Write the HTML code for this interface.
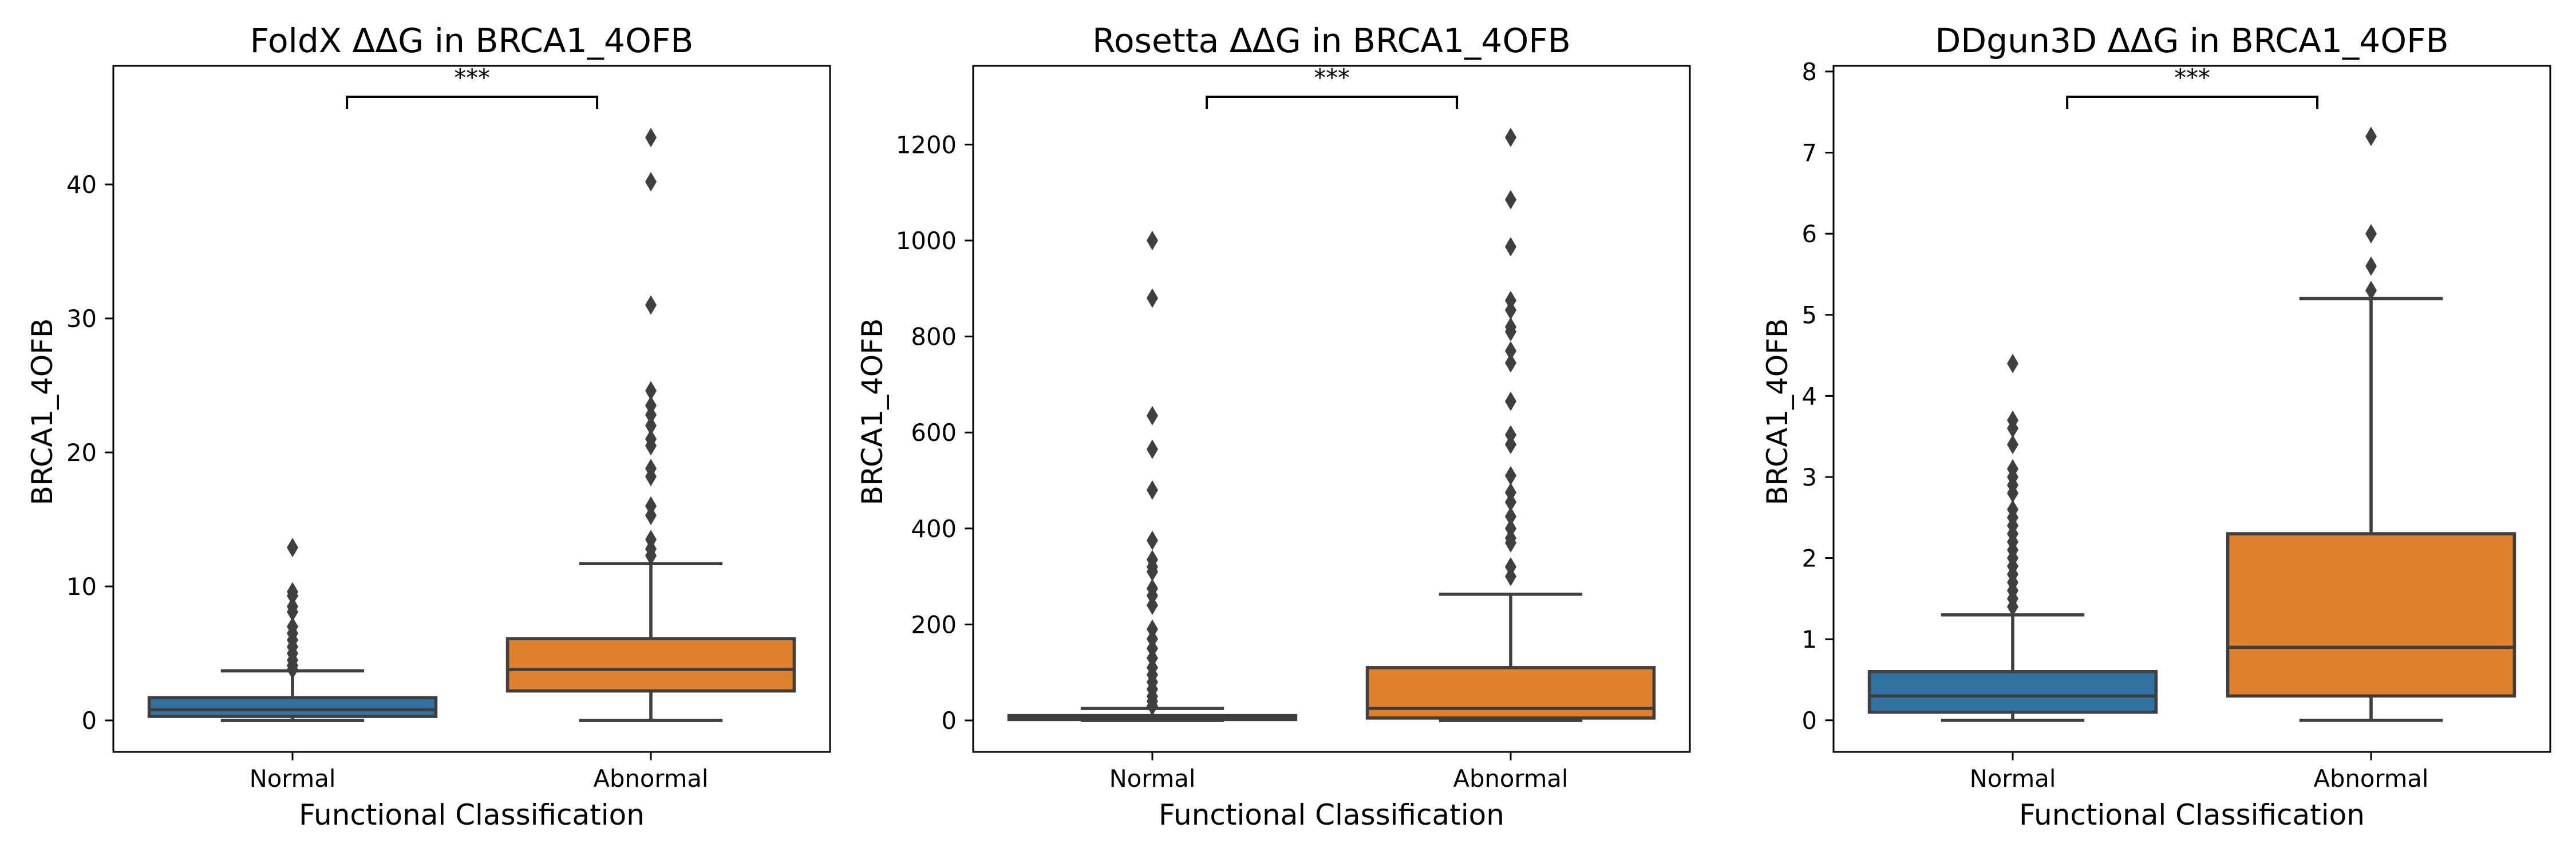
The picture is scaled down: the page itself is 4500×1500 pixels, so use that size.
<!DOCTYPE html>
<html><head><meta charset="utf-8"><style>
html,body{margin:0;padding:0;background:#fff}
svg{display:block}
text{font-family:"DejaVu Sans","Liberation Sans",sans-serif;fill:#000}
</style></head><body>
<svg id="fig" width="4500" height="1500" viewBox="0 0 4500 1500" xmlns="http://www.w3.org/2000/svg"></svg>
<script>
// ---- data ----
const categories = ["Normal", "Abnormal"];
const titles = ["FoldX ΔΔG in BRCA1_4OFB", "Rosetta ΔΔG in BRCA1_4OFB", "DDgun3D ΔΔG in BRCA1_4OFB"];
const yTicks1 = [0, 10, 20, 30, 40];
const yTicks2 = [0, 200, 400, 600, 800, 1000, 1200];
const yTicks3 = [0, 1, 2, 3, 4, 5, 6, 7, 8];
// box stats [whiskerLow, q1, median, q3, whiskerHigh]
const foldxNormal = [0, 0.3, 0.8, 1.7, 3.7];
const foldxAbnormal = [0, 2.2, 3.8, 6.1, 11.7];
const foldxNormalOut = [12.9, 9.6, 9.3, 8.5, 8.1, 7.0, 6.5, 6.0, 5.5, 5.0, 4.5, 4.1, 3.8];
const foldxAbnormalOut = [43.5, 40.2, 31.0, 24.6, 23.5, 22.8, 22.0, 21.0, 20.5, 18.8, 18.2, 16.0, 15.3, 13.5, 12.8, 12.3];
const rosettaNormal = [0, 2, 6, 10, 25];
const rosettaAbnormal = [0, 5, 25, 110, 263];
const rosettaNormalOut = [1000, 880, 635, 565, 480, 375, 335, 320, 310, 275, 260, 240, 190, 170, 150, 130, 110, 95, 80, 65, 50, 40, 30];
const rosettaAbnormalOut = [1215, 1085, 987, 875, 855, 820, 810, 770, 745, 665, 595, 575, 510, 475, 455, 425, 400, 380, 370, 320, 300];
const ddgunNormal = [0, 0.1, 0.3, 0.6, 1.3];
const ddgunAbnormal = [0, 0.3, 0.9, 2.3, 5.2];
const ddgunNormalOut = [4.4, 3.7, 3.6, 3.4, 3.1, 3.0, 2.9, 2.8, 2.6, 2.5, 2.4, 2.3, 2.2, 2.1, 2.0, 1.9, 1.8, 1.7, 1.6, 1.5, 1.4];
const ddgunAbnormalOut = [7.2, 6.0, 5.6, 5.3];
const yDomains = [[-2.35, 48.85], [-65.6, 1364], [-0.39, 8.07]];

const NS = "http://www.w3.org/2000/svg";
const svg = document.getElementById('fig');
function mk(tag, attrs, parent) {
  const e = document.createElementNS(NS, tag);
  for (const k in attrs) e.setAttribute(k, attrs[k]);
  (parent || svg).appendChild(e);
  return e;
}
const panels = [
  {left: 198, stats: [foldxNormal, foldxAbnormal], outs: [foldxNormalOut, foldxAbnormalOut], ticks: yTicks1, ylx: 74},
  {left: 1700, stats: [rosettaNormal, rosettaAbnormal], outs: [rosettaNormalOut, rosettaAbnormalOut], ticks: yTicks2, ylx: 1524},
  {left: 3203, stats: [ddgunNormal, ddgunAbnormal], outs: [ddgunNormalOut, ddgunAbnormalOut], ticks: yTicks3, ylx: 3105}
];
const W = 1252, TOP = 115, BOT = 1313;
const colors = ["#3274a1", "#e1812c"];
const LC = "#3f3f3f";

panels.forEach((p, pi) => {
  const g = mk('g', {});
  
  
  const [d0, d1] = yDomains[pi];
  const y = v => BOT - (v - d0) / (d1 - d0) * (BOT - TOP);
  const x = i => p.left + W * (0.25 + 0.5 * i);
  const bw = W * 0.4;

  // boxes
  p.stats.forEach((s, i) => {
    const bg = mk('g', {}, g);
    
    
    const cx = x(i);
    const w1 = mk('line', {x1: cx, x2: cx, y1: y(s[0]), y2: y(s[1]), stroke: LC, 'stroke-width': 5.6}, bg);
    
    
    const w2 = mk('line', {x1: cx, x2: cx, y1: y(s[3]), y2: y(s[4]), stroke: LC, 'stroke-width': 5.6}, bg);
    
    
    [s[0], s[4]].forEach(v => {
      const c = mk('line', {x1: cx - bw / 4, x2: cx + bw / 4, y1: y(v), y2: y(v), stroke: LC, 'stroke-width': 5.6}, bg);
      
      
    });
    const r = mk('rect', {x: cx - bw / 2, y: y(s[3]), width: bw, height: Math.max(0.5, y(s[1]) - y(s[3])), fill: colors[i], stroke: LC, 'stroke-width': 5.6}, bg);
    
    
    const m = mk('line', {x1: cx - bw / 2, x2: cx + bw / 2, y1: y(s[2]), y2: y(s[2]), stroke: LC, 'stroke-width': 5.6}, bg);
    
    
    p.outs[i].forEach(v => {
      const cy = y(v);
      const o = mk('polygon', {points: `${cx},${cy - 17} ${cx + 10},${cy} ${cx},${cy + 17} ${cx - 10},${cy}`, fill: LC}, bg);
      
      
    });
  });

  // spines
  const fr = mk('rect', {x: p.left, y: TOP, width: W, height: BOT - TOP, fill: 'none', stroke: '#000', 'stroke-width': 3}, g);
  
  

  // y ticks
  p.ticks.forEach(t => {
    const ty = y(t);
    const tl = mk('line', {x1: p.left - 14.6, x2: p.left, y1: ty, y2: ty, stroke: '#000', 'stroke-width': 3}, g);
    
    
    const tx = mk('text', {x: p.left - 29, y: ty + 15, 'text-anchor': 'end', 'font-size': 41.7}, g);
    tx.textContent = t;
    
    
  });
  // x ticks
  categories.forEach((c, i) => {
    const tl = mk('line', {x1: x(i), x2: x(i), y1: BOT, y2: BOT + 14.6, stroke: '#000', 'stroke-width': 3}, g);
    
    
    const tx = mk('text', {x: x(i), y: 1374, 'text-anchor': 'middle', 'font-size': 41.7}, g);
    tx.textContent = c;
    
    
  });
  const xl = mk('text', {x: p.left + W / 2, y: 1440, 'text-anchor': 'middle', 'font-size': 50}, g);
  xl.textContent = 'Functional Classification';
  
  
  const yl = mk('text', {x: 0, y: 0, 'text-anchor': 'middle', 'dominant-baseline': 'central', 'font-size': 50, transform: `translate(${p.ylx},719) rotate(-90)`}, g);
  yl.textContent = 'BRCA1_4OFB';
  
  
  const ti = mk('text', {x: p.left + W / 2, y: 91, 'text-anchor': 'middle', 'font-size': 58.3}, g);
  ti.textContent = titles[pi];
  
  

  // significance bracket
  const bx1 = p.left + W * 0.326, bx2 = p.left + W * 0.675;
  const br = mk('polyline', {points: `${bx1},190 ${bx1},169 ${bx2},169 ${bx2},190`, fill: 'none', stroke: '#000', 'stroke-width': 4}, g);
  
  
  const st = mk('text', {x: (bx1 + bx2) / 2, y: 150, 'text-anchor': 'middle', 'font-size': 41.7}, g);
  st.textContent = '***';
  
  
});
</script>
</body></html>
